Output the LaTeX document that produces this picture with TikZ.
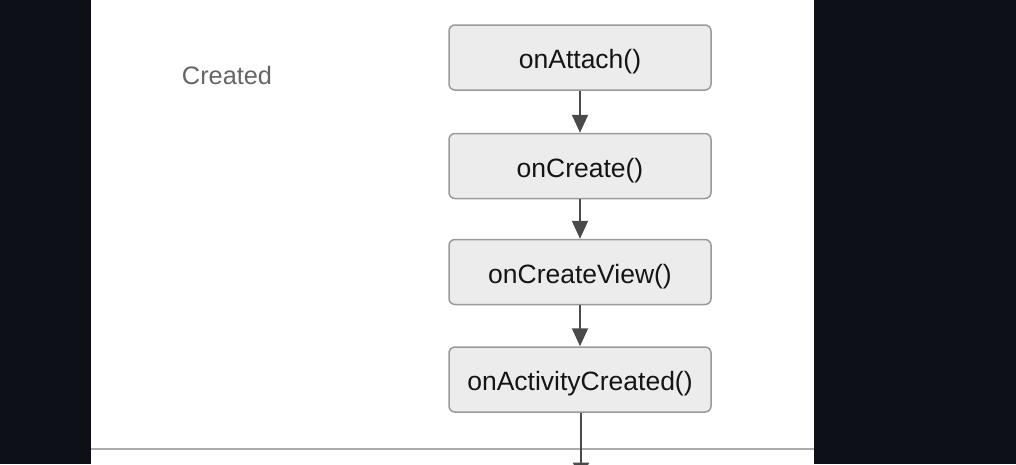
\documentclass[tikz,border=0pt]{standalone}
\usepackage{fontspec}
\setmainfont{Liberation Sans}
\usetikzlibrary{arrows.meta}
\definecolor{darkbg}{HTML}{0D1117}
\definecolor{boxfill}{HTML}{ECECEC}
\definecolor{boxdraw}{HTML}{9A9A9A}
\definecolor{linecol}{HTML}{4A4A4A}
\definecolor{sepcol}{HTML}{ACACAC}
\definecolor{labelcol}{HTML}{666666}
\definecolor{textcol}{HTML}{151515}
\tikzset{
  x=1pt, y=-1pt,
  stepbox/.style={draw=boxdraw, fill=boxfill, line width=1.5pt, rounded corners=6pt,
    minimum width=262pt, minimum height=65pt, inner sep=0pt,
    text height=22pt, text depth=0pt,
    font=\fontsize{26.5}{31}\selectfont, text=textcol},
  flow/.style={draw=linecol, line width=2pt,
    -{Triangle[width=16pt,length=18pt]}},
  statelabel/.style={font=\fontsize{25.3}{30}\selectfont, text=labelcol}
}
\begin{document}
\begin{tikzpicture}
\useasboundingbox (0,0) rectangle (1016,464);
\clip (0,0) rectangle (1016,464);
\fill[darkbg] (0,0) rectangle (1016,464);
\fill[white] (91,0) rectangle (814,464);
\draw[sepcol, line width=2.5pt] (91,449) -- (814,449);
\node[statelabel] (created) at (227,75) {Created};
\node[stepbox] (attach) at (580,57.5) {onAttach()};
\node[stepbox] (create) at (580,166) {onCreate()};
\node[stepbox] (view) at (580,272) {onCreateView()};
\node[stepbox] (activity) at (580,379.5) {onActivityCreated()};
\coordinate (next) at (581,480.5);
\draw[flow] (attach) -- (create);
\draw[flow] (create) -- (view);
\draw[flow] (view) -- (activity);
\draw[flow] (activity.south -| next) -- (next);
\end{tikzpicture}
\end{document}
